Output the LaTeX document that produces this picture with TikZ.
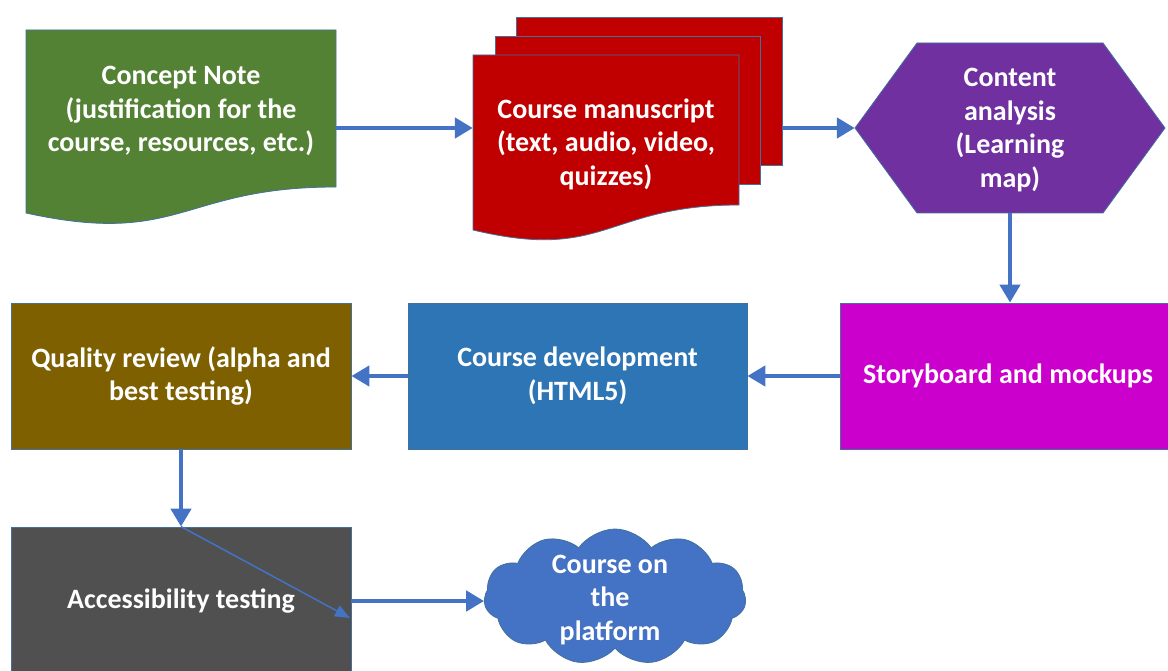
\documentclass[tikz,border=0pt]{standalone}
\usepackage{fontspec}
\setmainfont{Carlito}
\usetikzlibrary{arrows.meta,shapes.symbols}
\definecolor{cgreen}{HTML}{548235}
\definecolor{cred}{HTML}{C00000}
\definecolor{cpurple}{HTML}{7030A0}
\definecolor{cmagenta}{HTML}{CC00CC}
\definecolor{cblue}{HTML}{2E75B6}
\definecolor{colive}{HTML}{7F6000}
\definecolor{cgray}{HTML}{505050}
\definecolor{ccloud}{HTML}{4472C4}
\definecolor{carrow}{HTML}{4472C4}
\definecolor{cborder}{HTML}{41719C}
\begin{document}
\begin{tikzpicture}[x=1pt,y=-1pt,
  shapeline/.style={draw=cborder,line width=0.8pt},
  lbl/.style={text=white,font=\fontsize{28}{33.5}\selectfont\bfseries,align=center,inner sep=0pt},
  boxnode/.style={shapeline,lbl,rectangle,minimum height=146pt},
  anchorbox/.style={rectangle,inner sep=0pt,draw=none},
  flow/.style={draw=carrow,line width=4.5pt,-{Triangle[length=18pt,width=20pt]}},
  thinflow/.style={draw=carrow,line width=1.5pt,-{Triangle[length=15pt,width=12pt]}}]
\useasboundingbox (0,0) rectangle (1168,671);
% Concept note (document shape)
\fill[cgreen] (26,30) -- (336,30) -- (336,187) .. controls (181,187) and (181,247) .. (26,213) -- cycle;
\draw[shapeline] (26,30) -- (336,30) -- (336,187) .. controls (181,187) and (181,247) .. (26,213) -- cycle;
\node[anchorbox,minimum width=310pt,minimum height=196pt] (cn) at (181,128) {};
\node[lbl] (cnt) at (181,111) {Concept Note\\(justification for the\\course, resources, etc.)};
% Course manuscript (multi-document)
\draw[shapeline,fill=cred] (516,17) rectangle (782,165);
\draw[shapeline,fill=cred] (495,36) rectangle (760,184);
\draw[shapeline,fill=cred] (473,55) -- (739,55) -- (739,205) .. controls (606,205) and (606,262) .. (473,230) -- cycle;
\node[anchorbox,minimum width=309pt,minimum height=222pt] (ms) at (627.5,128) {};
\node[lbl] (mst) at (606,144) {Course manuscript\\(text, audio, video,\\quizzes)};
% Content analysis (hexagon)
\draw[shapeline,fill=cpurple] (855,128) -- (917,43) -- (1103,43) -- (1165,128) -- (1103,213) -- (917,213) -- cycle;
\node[anchorbox,minimum width=310pt,minimum height=170pt] (ca) at (1010,128) {};
\node[lbl] (cat) at (1010,130) {Content\\analysis\\(Learning\\map)};
% second row
\node[boxnode,fill=cmagenta,minimum width=336pt] (sb) at (1008,376) {Storyboard and mockups};
\node[boxnode,fill=cblue,minimum width=339pt] (cd) at (577.5,376) {Course development\\(HTML5)};
\node[boxnode,fill=colive,minimum width=340pt] (qr) at (181,376) {Quality review (alpha and\\best testing)};
% third row
\node[boxnode,fill=cgray,minimum width=340pt,minimum height=148pt] (at) at (181,601) {Accessibility testing};
\node[cloud,cloud puffs=11,cloud puff arc=110,aspect=1.9,draw=cborder,line width=0.8pt,fill=ccloud,minimum width=262pt,minimum height=136pt,inner sep=0pt] (cp) at (615,597) {};
\node[lbl] (cpt) at (610,600) {Course on\\the\\platform};
% connectors
\draw[flow] (cn.east) -- (ms.west);
\draw[flow] (ms.east) -- (ca.west);
\draw[flow] (ca.south) -- (ca.south |- sb.north);
\draw[flow] (sb.west) -- (cd.east);
\draw[flow] (cd.west) -- (qr.east);
\draw[flow] (qr.south) -- (at.north);
\coordinate (dg) at (350,618);
\draw[thinflow] (at.north) -- (dg);
\draw[flow] (at.east) -- (cp.west |- at.east);
\end{tikzpicture}
\end{document}
